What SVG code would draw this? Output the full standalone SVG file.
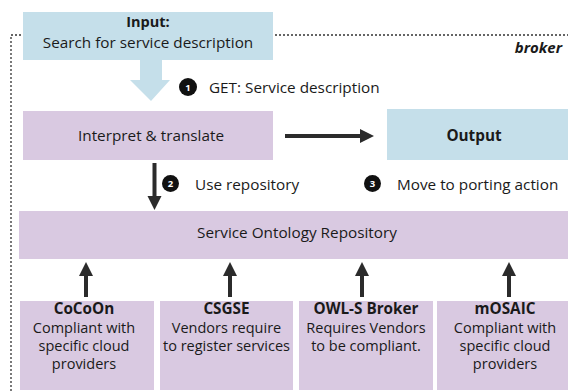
<svg xmlns="http://www.w3.org/2000/svg" width="568" height="392" viewBox="0 0 568 392">
<defs>
<style>
text{font-family:"Open Sans","Noto Sans","Liberation Sans",sans-serif;font-size:15.3px;fill:#1a1a1a}
.b{font-weight:bold}
.c{text-anchor:middle}
.t{font-size:15px}
.s{font-size:14.5px}
.blue{fill:#c5dfea}
.pur{fill:#d9c9e1}
.num{font-size:9.5px;font-weight:bold;fill:#fff;text-anchor:middle}
.dot{fill:#111}
.arr{stroke:#2b2b2b;stroke-width:4;fill:none}
.head{fill:#2b2b2b}
</style>
</defs>
<rect id="broker-frame" x="11" y="35" width="570" height="370" fill="none" stroke="#333" stroke-width="1.3" stroke-dasharray="2 2"/>
<text x="562" y="53" class="b t" style="font-style:italic;text-anchor:end">broker</text>

<g id="connectors">
<polygon points="140,60 162,60 162,80 170,80 151,101 130,80 140,80" class="blue"/>
<line x1="285" y1="136" x2="362" y2="136" class="arr"/>
<polygon points="360,129 374,136 360,143" class="head"/>
<line x1="154.5" y1="163" x2="154.5" y2="198" class="arr"/>
<polygon points="147.5,196 161.5,196 154.5,210" class="head"/>
<line x1="86" y1="297" x2="86" y2="273" class="arr"/>
<polygon points="79,276 93,276 86,262" class="head"/>
<line x1="230" y1="297" x2="230" y2="273" class="arr"/>
<polygon points="223,276 237,276 230,262" class="head"/>
<line x1="362" y1="297" x2="362" y2="273" class="arr"/>
<polygon points="355,276 369,276 362,262" class="head"/>
<line x1="509" y1="297" x2="509" y2="273" class="arr"/>
<polygon points="502,276 516,276 509,262" class="head"/>
</g>

<g id="step1">
<circle cx="188" cy="87" r="9" class="dot"/>
<text x="188" y="90.5" class="num">1</text>
<text x="209" y="93">GET: Service description</text>
</g>
<g id="step2">
<circle cx="170.5" cy="183.5" r="8.5" class="dot"/>
<text x="170.5" y="187" class="num">2</text>
<text x="195" y="190">Use repository</text>
</g>
<g id="step3">
<circle cx="372.5" cy="183.5" r="8.5" class="dot"/>
<text x="372.5" y="187" class="num">3</text>
<text x="397" y="190">Move to porting action</text>
</g>

<g id="input">
<rect x="23" y="12" width="250" height="48" class="blue"/>
<text x="148" y="27" class="b c s">Input:</text>
<text x="148" y="48" class="c">Search for service description</text>
</g>
<g id="interpret">
<rect x="23" y="111" width="250" height="49" class="pur"/>
<text x="151" y="141" class="c">Interpret &amp; translate</text>
</g>
<g id="output">
<rect x="387" y="109" width="190" height="51" class="blue"/>
<text x="474" y="141" class="b c">Output</text>
</g>
<g id="repository">
<rect x="19" y="211" width="560" height="48" class="pur"/>
<text x="297" y="238" class="c">Service Ontology Repository</text>
</g>
<g id="cocoon">
<rect x="20" y="301" width="134" height="89" class="pur"/>
<text x="84" y="314" class="b c">CoCoOn</text>
<text x="84" y="333" class="c s">Compliant with</text>
<text x="84" y="351" class="c s">specific cloud</text>
<text x="84" y="369" class="c s">providers</text>
</g>
<g id="csgse">
<rect x="160" y="301" width="133" height="89" class="pur"/>
<text x="226.5" y="314" class="b c">CSGSE</text>
<text x="226.5" y="333" class="c s">Vendors require</text>
<text x="226.5" y="351" class="c s">to register services</text>
</g>
<g id="owls">
<rect x="299" y="301" width="134" height="89" class="pur"/>
<text x="366" y="314" class="b c">OWL-S Broker</text>
<text x="366" y="333" class="c s">Requires Vendors</text>
<text x="366" y="351" class="c s">to be compliant.</text>
</g>
<g id="mosaic">
<rect x="437" y="301" width="140" height="89" class="pur"/>
<text x="505" y="314" class="b c">mOSAIC</text>
<text x="505" y="333" class="c s">Compliant with</text>
<text x="505" y="351" class="c s">specific cloud</text>
<text x="505" y="369" class="c s">providers</text>
</g>
</svg>
